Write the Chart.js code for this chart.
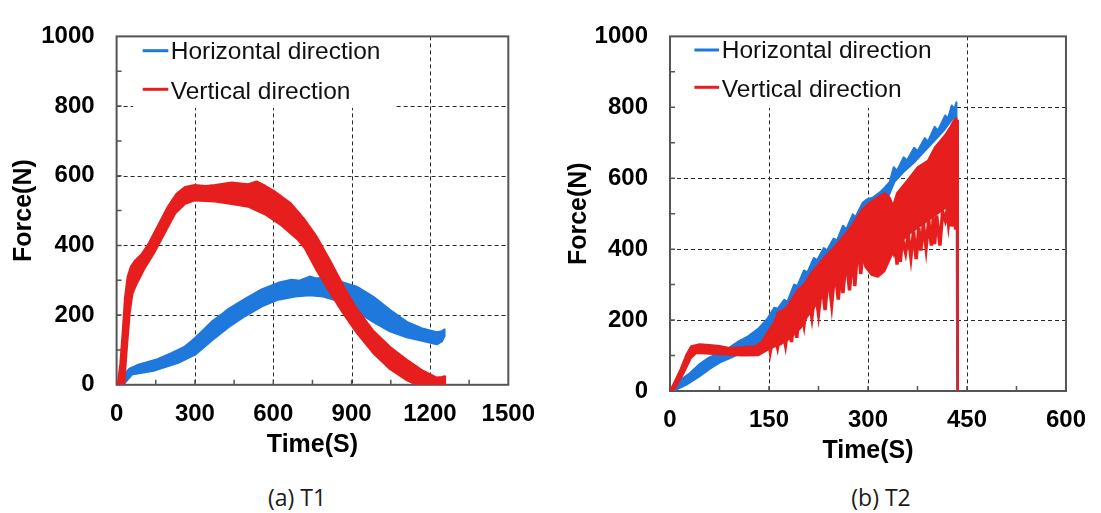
<!DOCTYPE html>
<html><head><meta charset="utf-8">
<script src="https://cdn.jsdelivr.net/npm/chart.js@4.4.1/dist/chart.umd.min.js"></script>
<style>
html,body{margin:0;padding:0;background:#fff;width:1101px;height:513px;overflow:hidden;}
.box{position:absolute;top:0;height:470px;}
#c1box{left:0;width:550px;}
#c2box{left:550px;width:551px;}
.cap{position:absolute;top:482px;font-family:'Open Sans',sans-serif;font-size:23px;line-height:30px;color:#1a1a1a;white-space:nowrap;transform:translateX(-50%);}
</style></head><body>
<div id="c1box" class="box"><canvas id="c1"></canvas></div>
<div id="c2box" class="box"><canvas id="c2"></canvas></div>
<div class="cap" style="left:297px">(a) T1</div>
<div class="cap" style="left:881px">(b) T2</div>
<script>
// ---------- data (time s, force N) ----------
const seriesLabels = ['Horizontal direction', 'Vertical direction'];
const yTickLabels = [0, 200, 400, 600, 800, 1000];
const t1XTickLabels = [0, 300, 600, 900, 1200, 1500];
const t2XTickLabels = [0, 150, 300, 450, 600];

// T1 horizontal (blue) band
const t1BlueUpper = [[17,0],[28,28],[50,46],[80,56],[150,71],[210,90],[260,108],[300,133],[330,155],[364,180],[400,200],[428,217],[492,246],[556,273],[619,292],[670,301],[700,298],[740,310],[760,305],[791,306],[855,296],[919,281],[983,252],[1047,214],[1111,180],[1174,160],[1226,150],[1245,153],[1255,158]];
const t1BlueLower = [[25,0],[35,10],[58,30],[147,42],[236,64],[300,87],[364,128],[428,166],[492,198],[556,226],[619,245],[683,254],[740,258],[791,254],[855,240],[919,211],[983,181],[1047,154],[1111,137],[1174,126],[1226,117],[1245,125],[1255,140]];
// T1 vertical (red) band
const t1RedUpper = [[5,0],[15,60],[25,160],[33,250],[43,310],[55,338],[70,355],[96,374],[121,402],[160,458],[198,512],[230,548],[262,567],[300,573],[340,570],[377,573],[441,580],[504,575],[536,583],[570,570],[600,557],[664,522],[715,478],[766,424],[817,356],[868,283],[919,218],[983,154],[1047,108],[1111,71],[1174,39],[1226,20],[1245,22],[1257,24]];
const t1RedLower = [[28,0],[40,120],[50,210],[60,262],[77,292],[109,338],[147,384],[185,438],[224,493],[262,520],[300,530],[377,527],[453,518],[504,512],[568,490],[632,458],[696,416],[721,393],[766,330],[817,266],[868,206],[919,151],[983,92],[1047,46],[1111,14],[1150,0],[1257,0]];

// T2 horizontal (blue) band
const t2BlueUpper = [[0,0],[15,30],[30,50],[45,76],[59,94],[74,107],[89,121],[104,140],[119,155],[134,176],[148,205],[158,235],[163,232],[173,257],[178,252],[188,300],[193,296],[203,340],[208,334],[218,375],[223,369],[233,403],[238,397],[248,430],[253,424],[262,466],[267,456],[277,498],[281,490],[292,531],[298,540],[307,545],[318,560],[326,575],[333,590],[339,631],[344,621],[354,659],[359,650],[370,686],[375,676],[386,713],[391,704],[401,745],[406,735],[417,777],[421,768],[427,805],[431,796],[434,814],[435,0]];
const t2BlueLower = [[5,0],[25,18],[45,42],[60,62],[75,80],[90,92],[105,105],[120,118],[135,135],[148,160],[160,190],[175,215],[190,255],[205,295],[220,330],[235,360],[250,390],[265,420],[280,455],[292,490],[305,505],[318,520],[330,545],[340,590],[355,620],[370,645],[385,675],[400,705],[415,735],[427,765],[434,775],[435,0]];
// T2 vertical (red) band: upper envelope and lower edge of the dense body
const t2RedUpper = [[0,0],[8,30],[15,57],[25,103],[32,126],[45,132],[60,130],[75,127],[90,121],[110,124],[129,126],[139,139],[148,166],[158,194],[163,221],[173,230],[178,239],[193,284],[203,300],[213,330],[233,375],[252,412],[272,457],[292,513],[302,530],[318,550],[326,558],[333,545],[338,522],[344,558],[360,595],[375,631],[391,650],[401,686],[417,722],[425,745],[430,763],[434,770]];
const t2RedLower = [[5,0],[20,48],[32,94],[40,107],[60,105],[84,103],[109,100],[134,101],[144,112],[153,122],[168,132],[183,150],[198,178],[208,210],[220,240],[240,285],[260,318],[280,355],[290,385],[296,350],[305,328],[315,322],[325,338],[335,380],[345,410],[360,440],[375,460],[390,480],[405,500],[420,520],[430,510],[434,470]];
// T2 vertical (red) downward oscillation spikes: alternating body / trough values
const t2RedSpikes = [[150,140],[152,112],[155,140],[160,150],[163,124],[166,155],[172,160],[175,130],[178,170],[182,180],[184,138],[187,190],[190,195],[192,150],[195,205],[200,215],[203,186],[206,230],[212,245],[215,208],[218,255],[222,260],[225,218],[228,270],[232,280],[235,228],[238,290],[242,295],[245,245],[248,305],[252,310],[255,258],[258,325],[260,330],[262,276],[265,335],[269,340],[272,284],[275,350],[278,360],[280,296],[283,370],[287,380],[289,330],[292,390],[336,410],[339,392],[342,420],[344,356],[346,420],[349,364],[352,430],[357,390],[361,440],[365,378],[369,450],[373,372],[377,460],[380,396],[384,470],[388,404],[392,480],[396,410],[399,490],[401,414],[404,495],[409,410],[413,505],[417,482],[420,510],[422,472],[425,515],[427,464],[430,510],[433,455],[434,490]];
// T2 vertical (red) final drop to zero at failure
const t2RedDrop = [[435,765],[436,0]];

const BLUE = '#1f78dc';
const RED = '#e61e1e';

const pts = a => a.map(p => ({x: p[0], y: p[1]}));
const band = (up, lo) => pts(up).concat(pts(lo).reverse());

const decor = {
  id: 'decor',
  beforeDatasetsDraw(chart, args, o) {
    const {ctx, chartArea: a, scales: {x, y}} = chart;
    ctx.save();
    ctx.strokeStyle = '#2a2a2a'; ctx.lineWidth = 1; ctx.setLineDash([4, 3]);
    ctx.beginPath();
    o.xGrid.forEach(v => { const px = Math.round(x.getPixelForValue(v)) + 0.5; ctx.moveTo(px, a.top); ctx.lineTo(px, a.bottom); });
    o.yGrid.forEach(v => { const py = Math.round(y.getPixelForValue(v)) + 0.5; ctx.moveTo(a.left, py); ctx.lineTo(a.right, py); });
    ctx.stroke();
    ctx.setLineDash([]);
    const b = o.box;
    ctx.fillStyle = '#fff'; ctx.fillRect(b[0], b[1], b[2] - b[0], b[3] - b[1]);
    ctx.strokeStyle = '#555'; ctx.lineWidth = 1.5; ctx.beginPath();
    o.xMinor.forEach(v => { const px = x.getPixelForValue(v); ctx.moveTo(px, a.bottom); ctx.lineTo(px, a.bottom - 5); });
    o.yMinor.forEach(v => { const py = y.getPixelForValue(v); ctx.moveTo(a.left, py); ctx.lineTo(a.left + 5, py); });
    ctx.stroke();
    ctx.strokeStyle = '#555'; ctx.lineWidth = 2;
    ctx.strokeRect(a.left, a.top, a.right - a.left, a.bottom - a.top);
    ctx.restore();
  },
  afterDatasetsDraw(chart, args, o) {
    const {ctx} = chart;
    const L = o.legend;
    ctx.save();
    ctx.font = '24.5px "Liberation Sans", Arial, sans-serif';
    ctx.fillStyle = '#111'; ctx.textBaseline = 'alphabetic'; ctx.textAlign = 'left';
    [BLUE, RED].forEach((c, i) => {
      ctx.strokeStyle = c; ctx.lineWidth = 3;
      ctx.beginPath(); ctx.moveTo(L.x0, L.lineY[i]); ctx.lineTo(L.x1, L.lineY[i]); ctx.stroke();
      ctx.fillText(seriesLabels[i], L.tx, L.base[i]);
    });
    ctx.restore();
  }
};

const tickFont = {family: '"Liberation Sans", Arial, sans-serif', size: 24, weight: 'bold'};
const titleFont = {family: '"Liberation Sans", Arial, sans-serif', size: 25, weight: 'bold'};

function makeChart(id, c) {
  return new Chart(document.getElementById(id), {
    type: 'line',
    data: {datasets: c.datasets},
    options: {
      animation: false, responsive: true, maintainAspectRatio: false,
      layout: {padding: {top: c.padTop, right: c.padRight, left: 0, bottom: 0}},
      elements: {point: {radius: 0}, line: {tension: 0}},
      plugins: {legend: {display: false}, tooltip: {enabled: false}, decor: c.decor},
      scales: {
        x: {
          type: 'linear', min: 0, max: c.xTicks[c.xTicks.length - 1],
          afterBuildTicks: s => { s.ticks = c.xTicks.map(v => ({value: v})); },
          ticks: {font: tickFont, color: '#000', padding: 15, maxRotation: 0, autoSkip: false, callback: v => String(v)},
          grid: {display: false, drawTicks: false}, border: {display: false},
          title: {display: true, text: 'Time(S)', font: titleFont, color: '#000', padding: {top: 0, bottom: c.xTitlePad}},
          afterFit: s => { s.height = c.xAxisH; }
        },
        y: {
          type: 'linear', min: 0, max: 1000,
          afterBuildTicks: s => { s.ticks = yTickLabels.map(v => ({value: v})); },
          ticks: {font: tickFont, color: '#000', padding: 22, callback: v => String(v)},
          grid: {display: false, drawTicks: false}, border: {display: false},
          title: {display: true, text: 'Force(N)', font: titleFont, color: '#000', padding: {top: c.yTitlePad, bottom: 0}},
          afterFit: s => { s.width = c.yAxisW; }
        }
      }
    },
    plugins: [decor]
  });
}

const bandDs = (data, col, w) => ({data, borderColor: col, backgroundColor: col, borderWidth: w, fill: 'shape', pointRadius: 0, borderJoinStyle: 'round'});
const lineDs = (data, col, w) => ({data, borderColor: col, borderWidth: w, fill: false, pointRadius: 0});

makeChart('c1', {
  padTop: 22.5, padRight: 41.6, yAxisW: 116.6, xAxisH: 85.2, xTitlePad: 10, yTitlePad: 9,
  xTicks: t1XTickLabels,
  datasets: [bandDs(band(t1RedUpper, t1RedLower), RED, 2.5), bandDs(band(t1BlueUpper, t1BlueLower), BLUE, 2.5)],
  decor: {
    xGrid: [300, 600, 900, 1200], yGrid: [200, 400, 600, 800],
    xMinor: [150, 300, 450, 600, 750, 900, 1050, 1200, 1350], yMinor: [100, 200, 300, 400, 500, 600, 700, 800, 900],
    box: [133, 33, 395, 108],
    legend: {x0: 142.7, x1: 168.3, tx: 170.7, lineY: [50.7, 89.3], base: [59.3, 98.7]}
  }
});

makeChart('c2', {
  padTop: 24, padRight: 27, yAxisW: 120, xAxisH: 79, xTitlePad: 4, yTitlePad: 14,
  xTicks: t2XTickLabels,
  datasets: [
    lineDs(pts(t2RedDrop), RED, 2.5),
    lineDs(pts(t2RedSpikes), RED, 3.5),
    bandDs(band(t2RedUpper, t2RedLower), RED, 2),
    bandDs(band(t2BlueUpper, t2BlueLower), BLUE, 2)
  ],
  decor: {
    xGrid: [150, 300, 450], yGrid: [200, 400, 600, 800],
    xMinor: [75, 150, 225, 300, 375, 450, 525], yMinor: [100, 200, 300, 400, 500, 600, 700, 800, 900],
    box: [121, 24, 398, 108],
    legend: {x0: 144.4, x1: 169, tx: 171.8, lineY: [50, 87.3], base: [58.4, 96.7]}
  }
});
</script>
</body></html>
